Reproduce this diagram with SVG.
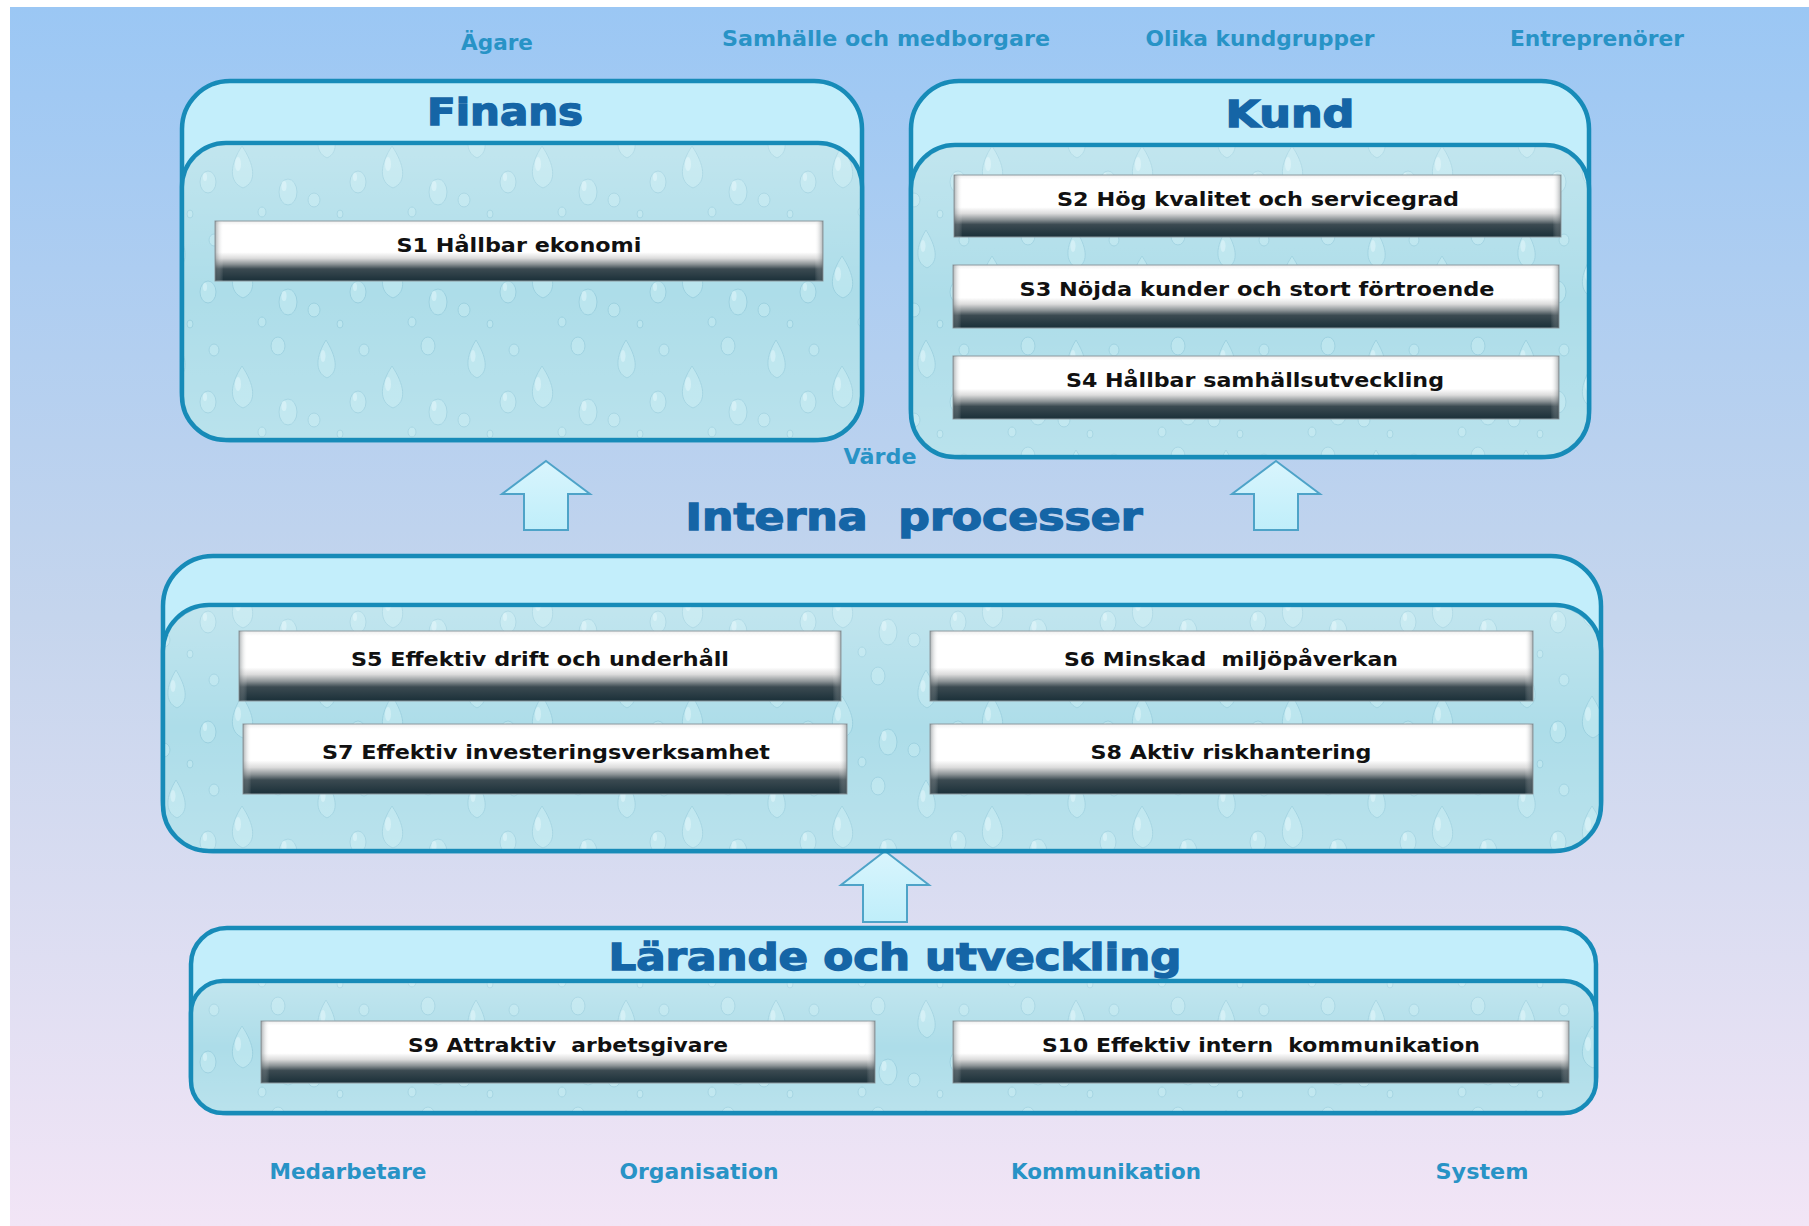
<svg xmlns="http://www.w3.org/2000/svg" width="1809" height="1226" viewBox="0 0 1809 1226">
<defs>
  <linearGradient id="bg" x1="0" y1="0" x2="0" y2="1">
    <stop offset="0" stop-color="#9bc7f4"/>
    <stop offset="0.5" stop-color="#c5d5ed"/>
    <stop offset="1" stop-color="#f2e5f6"/>
  </linearGradient>
  <linearGradient id="bar" x1="0" y1="0" x2="0" y2="1">
    <stop offset="0" stop-color="#eeeeee"/>
    <stop offset="0.07" stop-color="#ffffff"/>
    <stop offset="0.52" stop-color="#ffffff"/>
    <stop offset="0.62" stop-color="#dcdcdc"/>
    <stop offset="0.72" stop-color="#8c9396"/>
    <stop offset="0.8" stop-color="#3b4a51"/>
    <stop offset="1" stop-color="#1b3039"/>
  </linearGradient>
  <linearGradient id="barside" x1="0" y1="0" x2="1" y2="0">
    <stop offset="0" stop-color="#5a6468" stop-opacity="0.5"/>
    <stop offset="0.014" stop-color="#ffffff" stop-opacity="0"/>
    <stop offset="0.986" stop-color="#ffffff" stop-opacity="0"/>
    <stop offset="1" stop-color="#5a6468" stop-opacity="0.5"/>
  </linearGradient>
  <linearGradient id="arrow" x1="0" y1="0" x2="0" y2="1">
    <stop offset="0" stop-color="#d9f5fd"/>
    <stop offset="1" stop-color="#bfeefa"/>
  </linearGradient>
  <linearGradient id="sheen" x1="0" y1="0" x2="0" y2="1">
    <stop offset="0" stop-color="#ffffff" stop-opacity="0.25"/>
    <stop offset="0.5" stop-color="#ffffff" stop-opacity="0"/>
    <stop offset="1" stop-color="#ffffff" stop-opacity="0.15"/>
  </linearGradient>
  <pattern id="drops" width="150" height="110" patternUnits="userSpaceOnUse">
    <rect width="150" height="110" fill="#addde9"/>
    <g fill="#bfe8f1" stroke="#93cbdb" stroke-width="1" opacity="0.75">
      <path d="M26 10 C16 26 14 42 27 48 C40 42 36 26 26 10 Z"/>
      <path d="M92 36 C80 54 78 72 93 78 C108 72 104 54 92 36 Z"/>
      <ellipse cx="128" cy="16" rx="7" ry="9"/>
      <ellipse cx="58" cy="72" rx="8" ry="11"/>
      <ellipse cx="14" cy="90" rx="6" ry="7"/>
      <ellipse cx="138" cy="82" rx="9" ry="13"/>
      <ellipse cx="64" cy="20" rx="5" ry="6"/>
      <ellipse cx="112" cy="102" rx="4" ry="5"/>
      <ellipse cx="40" cy="104" rx="3" ry="4"/>
    </g>
    <g fill="#d8f3f8" opacity="0.7">
      <ellipse cx="23" cy="26" rx="2.5" ry="6"/>
      <ellipse cx="88" cy="54" rx="3" ry="7"/>
      <ellipse cx="134" cy="76" rx="2.5" ry="5"/>
      <ellipse cx="55" cy="67" rx="2" ry="4"/>
    </g>
  </pattern>
  <style>
    .outer { fill: #c3eefb; stroke: #178bb8; stroke-width: 4.5; }
    .inner { fill: url(#drops); stroke: #178bb8; stroke-width: 4.5; }
    .sheen { fill: url(#sheen); stroke: none; }
    .bar { fill: url(#bar); stroke: #8d9aa0; stroke-width: 1; }
    .barside { fill: url(#barside); }
    .bt { font-family: "DejaVu Sans", Verdana, sans-serif; font-weight: bold; font-size: 19px; fill: #111; text-anchor: middle; }
    .head { font-family: "DejaVu Sans", Verdana, sans-serif; font-weight: bold; font-size: 38px; fill: #1565a6; stroke: #1565a6; stroke-width: 1.4; text-anchor: middle; }
    .lab { font-family: "DejaVu Sans", Verdana, sans-serif; font-weight: bold; font-size: 21px; fill: #2893c6; text-anchor: middle; }
    .arr { fill: url(#arrow); stroke: #4ea3c8; stroke-width: 2; }
  </style>
</defs>

<rect x="0" y="0" width="1809" height="1226" fill="#ffffff"/>
<rect x="10" y="7" width="1799" height="1219" fill="url(#bg)"/>

<g id="labels-top">
  <text class="lab" x="497" y="50" textLength="72" lengthAdjust="spacingAndGlyphs">Ägare</text>
  <text class="lab" x="886" y="46" textLength="328" lengthAdjust="spacingAndGlyphs">Samhälle och medborgare</text>
  <text class="lab" x="1260" y="46" textLength="229" lengthAdjust="spacingAndGlyphs">Olika kundgrupper</text>
  <text class="lab" x="1597" y="46" textLength="174" lengthAdjust="spacingAndGlyphs">Entreprenörer</text>
</g>

<g id="finans">
  <rect class="outer" x="182" y="81" width="680" height="359" rx="48" ry="48"/>
  <rect class="inner" x="182" y="143" width="680" height="297" rx="44" ry="44"/>
  <rect class="sheen" x="184" y="145" width="676" height="293" rx="42" ry="42"/>
  <text class="head" x="505" y="125" textLength="156" lengthAdjust="spacingAndGlyphs">Finans</text>
</g>

<g id="s1">
  <rect class="bar" x="215" y="221" width="608" height="60"/>
  <rect class="barside" x="215" y="221" width="608" height="60"/>
  <text class="bt" x="519" y="252" textLength="245" lengthAdjust="spacingAndGlyphs">S1 Hållbar ekonomi</text>
</g>

<g id="kund">
  <rect class="outer" x="911" y="81" width="678" height="376" rx="48" ry="48"/>
  <rect class="inner" x="911" y="145" width="678" height="312" rx="44" ry="44"/>
  <rect class="sheen" x="913" y="147" width="674" height="308" rx="42" ry="42"/>
  <text class="head" x="1290" y="127" textLength="129" lengthAdjust="spacingAndGlyphs">Kund</text>
</g>

<g id="s2">
  <rect class="bar" x="954" y="175" width="607" height="62"/>
  <rect class="barside" x="954" y="175" width="607" height="62"/>
  <text class="bt" x="1258" y="206" textLength="402" lengthAdjust="spacingAndGlyphs">S2 Hög kvalitet och servicegrad</text>
</g>
<g id="s3">
  <rect class="bar" x="953" y="265" width="606" height="63"/>
  <rect class="barside" x="953" y="265" width="606" height="63"/>
  <text class="bt" x="1257" y="296" textLength="475" lengthAdjust="spacingAndGlyphs">S3 Nöjda kunder och stort förtroende</text>
</g>
<g id="s4">
  <rect class="bar" x="953" y="356" width="606" height="63"/>
  <rect class="barside" x="953" y="356" width="606" height="63"/>
  <text class="bt" x="1255" y="387" textLength="378" lengthAdjust="spacingAndGlyphs">S4 Hållbar samhällsutveckling</text>
</g>

<g id="varde">
  <text class="lab" x="880" y="464" textLength="73" lengthAdjust="spacingAndGlyphs">Värde</text>
</g>

<g id="connectors">
  <path class="arr" d="M546 461 L590 494 L568 494 L568 530 L524 530 L524 494 L502 494 Z"/>
  <path class="arr" d="M1276 461 L1320 494 L1298 494 L1298 530 L1254 530 L1254 494 L1232 494 Z"/>
  <path class="arr" d="M885 851 L929 885 L907 885 L907 922 L863 922 L863 885 L841 885 Z"/>
</g>

<g id="interna">
  <rect class="outer" x="163" y="556" width="1438" height="295" rx="50" ry="50"/>
  <rect class="inner" x="163" y="605" width="1438" height="246" rx="46" ry="46"/>
  <rect class="sheen" x="165" y="607" width="1434" height="242" rx="44" ry="44"/>
  <text class="head" x="914" y="530" textLength="457" lengthAdjust="spacingAndGlyphs" xml:space="preserve">Interna  processer</text>
</g>

<g id="s5">
  <rect class="bar" x="239" y="631" width="602" height="70"/>
  <rect class="barside" x="239" y="631" width="602" height="70"/>
  <text class="bt" x="540" y="666" textLength="378" lengthAdjust="spacingAndGlyphs">S5 Effektiv drift och underhåll</text>
</g>
<g id="s6">
  <rect class="bar" x="930" y="631" width="603" height="70"/>
  <rect class="barside" x="930" y="631" width="603" height="70"/>
  <text class="bt" x="1231" y="666" textLength="334" lengthAdjust="spacingAndGlyphs" xml:space="preserve">S6 Minskad  miljöpåverkan</text>
</g>
<g id="s7">
  <rect class="bar" x="243" y="724" width="604" height="70"/>
  <rect class="barside" x="243" y="724" width="604" height="70"/>
  <text class="bt" x="546" y="759" textLength="448" lengthAdjust="spacingAndGlyphs">S7 Effektiv investeringsverksamhet</text>
</g>
<g id="s8">
  <rect class="bar" x="930" y="724" width="603" height="70"/>
  <rect class="barside" x="930" y="724" width="603" height="70"/>
  <text class="bt" x="1231" y="759" textLength="281" lengthAdjust="spacingAndGlyphs">S8 Aktiv riskhantering</text>
</g>

<g id="larande">
  <rect class="outer" x="191" y="928" width="1405" height="185" rx="36" ry="36"/>
  <rect class="inner" x="191" y="981" width="1405" height="132" rx="32" ry="32"/>
  <rect class="sheen" x="193" y="983" width="1401" height="128" rx="30" ry="30"/>
  <text class="head" x="895" y="970" textLength="573" lengthAdjust="spacingAndGlyphs">Lärande och utveckling</text>
</g>

<g id="s9">
  <rect class="bar" x="261" y="1021" width="614" height="62"/>
  <rect class="barside" x="261" y="1021" width="614" height="62"/>
  <text class="bt" x="568" y="1052" textLength="320" lengthAdjust="spacingAndGlyphs" xml:space="preserve">S9 Attraktiv  arbetsgivare</text>
</g>
<g id="s10">
  <rect class="bar" x="953" y="1021" width="616" height="62"/>
  <rect class="barside" x="953" y="1021" width="616" height="62"/>
  <text class="bt" x="1261" y="1052" textLength="438" lengthAdjust="spacingAndGlyphs" xml:space="preserve">S10 Effektiv intern  kommunikation</text>
</g>

<g id="labels-bottom">
  <text class="lab" x="348" y="1179" textLength="157" lengthAdjust="spacingAndGlyphs">Medarbetare</text>
  <text class="lab" x="699" y="1179" textLength="159" lengthAdjust="spacingAndGlyphs">Organisation</text>
  <text class="lab" x="1106" y="1179" textLength="190" lengthAdjust="spacingAndGlyphs">Kommunikation</text>
  <text class="lab" x="1482" y="1179" textLength="93" lengthAdjust="spacingAndGlyphs">System</text>
</g>
</svg>
